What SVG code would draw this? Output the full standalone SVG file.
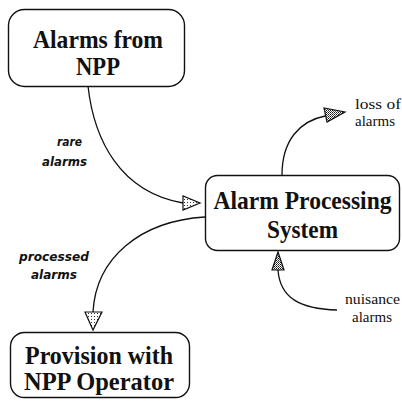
<svg xmlns="http://www.w3.org/2000/svg" width="402" height="406" viewBox="0 0 402 406">
<defs>
<pattern id="dotsLight" width="3" height="3" patternUnits="userSpaceOnUse">
<rect width="3" height="3" fill="#ffffff"/>
<rect x="1" y="1" width="1" height="1" fill="#333333"/>
</pattern>
<pattern id="dotsDark" width="2" height="2" patternUnits="userSpaceOnUse">
<rect width="2" height="2" fill="#ffffff"/>
<rect x="0" y="0" width="1" height="1" fill="#111111"/>
<rect x="1" y="1" width="1" height="1" fill="#555555"/>
</pattern>
</defs>
<style>
.box{fill:#ffffff;stroke:#111111;stroke-width:1.4}
.title{font-family:"Liberation Serif","Times New Roman",serif;font-weight:bold;font-size:26px;fill:#111111;text-anchor:middle}
.small{font-size:25px}
.edge{fill:none;stroke:#111111;stroke-width:1.3}
.headL{fill:url(#dotsLight);stroke:#111111;stroke-width:1.2}
.headD{fill:url(#dotsDark);stroke:#111111;stroke-width:1.2}
.lblI{font-family:"DejaVu Sans","Liberation Sans",sans-serif;font-weight:bold;font-style:italic;font-size:12px;fill:#111111}
.lblR{font-family:"Liberation Serif","Times New Roman",serif;font-size:15px;fill:#111111}
</style>
<rect width="402" height="406" fill="#ffffff"/>
<g id="connectors">
<g id="edge-rare">
<path class="edge" d="M88,86 C94,140 120,192 183,203"/>
<polygon class="headL" points="183,196 183,210 200,203"/>
<text class="lblI" x="82" y="146" text-anchor="end" textLength="25" lengthAdjust="spacingAndGlyphs">rare</text>
<text class="lblI" x="87" y="166" text-anchor="end" textLength="45" lengthAdjust="spacingAndGlyphs">alarms</text>
</g>
<g id="edge-loss">
<path class="edge" d="M282,175 C282,140 300,121 325,116"/>
<polygon class="headD" points="324,108 327,122 345,112"/>
<text class="lblR" x="355" y="109" textLength="46" lengthAdjust="spacingAndGlyphs">loss of</text>
<text class="lblR" x="355" y="126" textLength="40" lengthAdjust="spacingAndGlyphs">alarms</text>
</g>
<g id="edge-nuisance">
<path class="edge" d="M278,270 C280,298 300,309 337,310"/>
<polygon class="headD" points="272,270 284,270 278,252"/>
<text class="lblR" x="345" y="304" textLength="55" lengthAdjust="spacingAndGlyphs">nuisance</text>
<text class="lblR" x="352" y="322" textLength="40" lengthAdjust="spacingAndGlyphs">alarms</text>
</g>
<g id="edge-processed">
<path class="edge" d="M205,217 C140,221 96,258 93,312"/>
<polygon class="headL" points="85,312 102,312 93,330"/>
<text class="lblI" x="54" y="261" text-anchor="middle" textLength="70" lengthAdjust="spacingAndGlyphs">processed</text>
<text class="lblI" x="54" y="279" text-anchor="middle" textLength="46" lengthAdjust="spacingAndGlyphs">alarms</text>
</g>
</g>
<g id="node-alarms-from-npp">
<rect class="box" x="8.5" y="9.5" width="176" height="77" rx="16"/>
<text class="title" x="98" y="48" textLength="130" lengthAdjust="spacingAndGlyphs">Alarms from</text>
<text class="title" x="98" y="75" textLength="44" lengthAdjust="spacingAndGlyphs">NPP</text>
</g>
<g id="node-alarm-processing-system">
<rect class="box" x="205.5" y="175.5" width="194" height="75" rx="12"/>
<text class="title" x="302.5" y="209" font-size="24" textLength="178" lengthAdjust="spacingAndGlyphs">Alarm Processing</text>
<text class="title" x="302.5" y="238" textLength="71" lengthAdjust="spacingAndGlyphs">System</text>
</g>
<g id="node-provision">
<rect class="box" x="10.5" y="332.5" width="179" height="65" rx="14"/>
<text class="title small" x="99" y="364" textLength="148" lengthAdjust="spacingAndGlyphs">Provision with</text>
<text class="title small" x="99" y="390" textLength="150" lengthAdjust="spacingAndGlyphs">NPP Operator</text>
</g>
</svg>
